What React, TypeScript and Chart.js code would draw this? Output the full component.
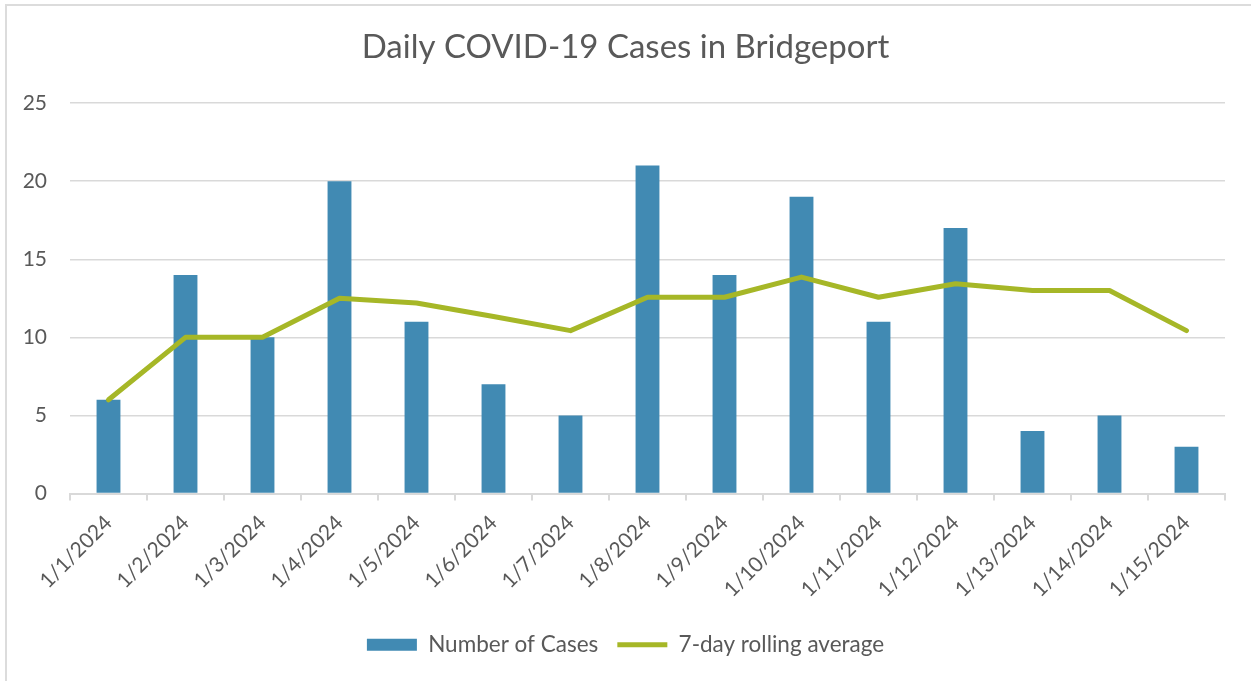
import React, { useEffect, useRef } from "react";
import { Chart, registerables } from "chart.js";

Chart.register(...registerables);

const categories = [
  "1/1/2024", "1/2/2024", "1/3/2024", "1/4/2024", "1/5/2024",
  "1/6/2024", "1/7/2024", "1/8/2024", "1/9/2024", "1/10/2024",
  "1/11/2024", "1/12/2024", "1/13/2024", "1/14/2024", "1/15/2024",
];
const cases = [6, 14, 10, 20, 11, 7, 5, 21, 14, 19, 11, 17, 4, 5, 3];
const rollingAvg = [6, 10, 10, 12.5, 12.2, 11.33, 10.43, 12.57, 12.57, 13.86, 12.57, 13.43, 13, 13, 10.43];
const yTicks = [0, 5, 10, 15, 20, 25];

const FONT = "Lato, 'Open Sans', sans-serif";
const TEXT = "#595959";
const GRID = "#d9d9d9";

export default function App() {
  const ref = useRef<HTMLCanvasElement | null>(null);

  useEffect(() => {
    if (!ref.current) return;
    const chart = new Chart(ref.current, {
      data: {
        labels: categories,
        datasets: [
          {
            type: "line",
            label: "7-day rolling average",
            data: rollingAvg,
            borderColor: "#A6B727",
            backgroundColor: "#A6B727",
            borderWidth: 5,
            pointRadius: 0,
            tension: 0,
            borderJoinStyle: "round",
            borderCapStyle: "round",
            pointStyle: "line",
            yAxisID: "y",
            order: 0,
          } as any,
          {
            type: "bar",
            label: "Number of Cases",
            data: cases,
            backgroundColor: "#418AB3",
            borderWidth: 0,
            barPercentage: 0.31,
            categoryPercentage: 1,
            pointStyle: "rect",
            yAxisID: "y",
            order: 1,
          } as any,
        ],
      },
      options: {
        responsive: false,
        animation: false,
        layout: { padding: { left: 0, right: 0, top: 0, bottom: 15 } },
        plugins: {
          title: {
            display: true,
            text: "Daily COVID-19 Cases in Bridgeport",
            color: TEXT,
            font: { family: FONT, size: 33, weight: "normal" },
            padding: { top: 28, bottom: 35.5 },
          },
          legend: {
            position: "bottom",
            reverse: true,
            labels: {
              usePointStyle: true,
              pointStyleWidth: 50,
              boxHeight: 12,
              color: TEXT,
              font: { family: FONT, size: 22.5 },
              padding: 19,
            },
          },
          tooltip: { enabled: false },
        },
        scales: {
          x: {
            type: "category",
            offset: true,
            grid: {
              offset: true,
              drawOnChartArea: false,
              drawTicks: true,
              tickLength: 7,
              color: GRID,
              lineWidth: 2,
            },
            border: { display: true, color: GRID, width: 2 },
            ticks: {
              color: TEXT,
              font: { family: FONT, size: 21 },
              minRotation: 45,
              maxRotation: 45,
              autoSkip: false,
              padding: 10,
            },
            afterFit: (s: any) => {
              s.height = 121;
            },
          },
          y: {
            min: 0,
            max: 25,
            afterBuildTicks: (s: any) => {
              s.ticks = yTicks.map((v) => ({ value: v }));
            },
            grid: { color: GRID, lineWidth: 1.5, drawTicks: false },
            border: { display: false },
            ticks: {
              color: TEXT,
              font: { family: FONT, size: 21 },
              padding: 23,
            },
            afterFit: (s: any) => {
              s.width = 70;
            },
          },
          yRight: {
            position: "right",
            min: 0,
            max: 25,
            grid: { display: false, drawTicks: false },
            border: { display: false },
            ticks: { display: false },
            afterFit: (s: any) => {
              s.width = 26;
            },
          },
        },
      } as any,
    });
    return () => chart.destroy();
  }, []);

  return (
    <div
      style={{
        position: "fixed",
        left: 0,
        top: 0,
        width: 1251,
        height: 681,
        background: "#fff",
        overflow: "hidden",
      }}
    >
      <div
        style={{
          position: "absolute",
          left: 5,
          top: 4,
          width: 1400,
          height: 900,
          borderLeft: "2px solid #dcdcdc",
          borderTop: "2px solid #dcdcdc",
        }}
      />
      <canvas
        ref={ref}
        width={1251}
        height={681}
        style={{ position: "absolute", left: 0, top: 0, width: 1251, height: 681 }}
      />
    </div>
  );
}
